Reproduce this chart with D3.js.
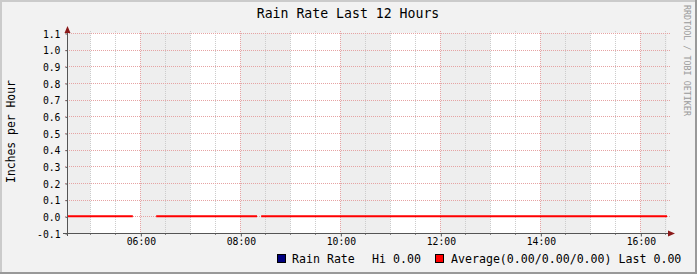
<html>
<head>
<meta charset="utf-8">
<script src="https://cdnjs.cloudflare.com/ajax/libs/d3/7.8.5/d3.min.js"></script>
<style>
body { margin: 0; background: #f2f2f2; }
svg text { font-family: "DejaVu Sans Mono", monospace; }
</style>
</head>
<body>
<svg id="canvas" width="697" height="274"></svg>
<script>

// samples (null = no data)
var times = ['04:32', '05:51', '05:52', '06:19', '08:20', '08:21', '08:25', '16:32'];
var rainRate = [0, 0, null, 0, 0, null, 0, 0];
var yTicks = [-0.1, 0, 0.1, 0.2, 0.3, 0.4, 0.5, 0.6, 0.7, 0.8, 0.9, 1.0, 1.1];
var majorHours = ['06:00', '08:00', '10:00', '12:00', '14:00', '16:00'];
var legendNames = ['Rain Rate', 'Average'];
var legendColors = ['#000080', '#ff0000'];

var parse = d3.timeParse('%H:%M');
var svg = d3.select('#canvas');
var W = 697, H = 274;

var x = d3.scaleTime().domain([parse('04:32'), parse('16:32')]).range([67, 667]);
var y = d3.scaleLinear().domain([-0.1, 1.1]).range([233, 33]);

// background + 3d frame
svg.append('rect').attr('width', W).attr('height', H).attr('fill', '#f2f2f2');
svg.append('rect').attr('x', 0).attr('y', 0).attr('width', W).attr('height', 2).attr('fill', '#cbcbcb');
svg.append('rect').attr('x', 0).attr('y', 0).attr('width', 2).attr('height', H).attr('fill', '#cbcbcb');
svg.append('rect').attr('x', 0).attr('y', H - 2).attr('width', W).attr('height', 2).attr('fill', '#999');
svg.append('rect').attr('x', W - 2).attr('y', 0).attr('width', 2).attr('height', H).attr('fill', '#999');

// canvas
svg.append('rect').attr('x', 67).attr('y', 33).attr('width', 600).attr('height', 200).attr('fill', '#fff');

// hour bands, even hours shaded
var hours = d3.timeHour.range(parse('04:00'), parse('17:00'));
svg.selectAll('.band')
  .data(hours.filter(function(h) { return h.getHours() % 2 === 0; }))
  .enter().append('rect')
  .attr('class', 'band')
  .attr('x', function(h) { return Math.max(67, x(h)); })
  .attr('y', 33)
  .attr('width', function(h) { return Math.min(667, x(d3.timeHour.offset(h, 1))) - Math.max(67, x(h)); })
  .attr('height', 200)
  .attr('fill', '#eeeeee');

// minor vertical grid (30 min)
var majors = majorHours.map(parse);
var minors = d3.timeMinute.every(30).range(parse('05:00'), parse('16:32'))
  .filter(function(t) { return !majors.some(function(m) { return +m === +t; }); });

svg.selectAll('.vminor')
  .data(minors).enter().append('line')
  .attr('x1', function(d) { return Math.round(x(d)) + 0.5; })
  .attr('x2', function(d) { return Math.round(x(d)) + 0.5; })
  .attr('y1', 31).attr('y2', 233)
  .attr('stroke', '#cccccc').attr('stroke-dasharray', '1,1');

// horizontal grid
svg.selectAll('.hgrid')
  .data(yTicks.slice(1)).enter().append('line')
  .attr('x1', 65).attr('x2', 670)
  .attr('y1', function(d) { return Math.round(y(d)) + 0.5; })
  .attr('y2', function(d) { return Math.round(y(d)) + 0.5; })
  .attr('stroke', '#e6a3a3').attr('stroke-dasharray', '1,1');

// major vertical grid
svg.selectAll('.vmajor')
  .data(majors).enter().append('line')
  .attr('x1', function(d) { return Math.round(x(d)) + 0.5; })
  .attr('x2', function(d) { return Math.round(x(d)) + 0.5; })
  .attr('y1', 31).attr('y2', 233)
  .attr('stroke', '#e6a3a3').attr('stroke-dasharray', '1,1');

// data line
var data = times.map(function(t, i) { return {t: parse(t), v: rainRate[i]}; });
var line = d3.line()
  .defined(function(d) { return d.v !== null; })
  .x(function(d) { return x(d.t); })
  .y(function(d) { return y(d.v); });
svg.append('path').datum(data)
  .attr('d', line)
  .attr('fill', 'none')
  .attr('stroke', '#ff0000')
  .attr('stroke-width', 2);

// axes
var yFmt = function(d) { return d3.format('.1f')(d).replace('\u2212', '-'); };
var yAxis = d3.axisLeft(y).tickValues(yTicks).tickSize(2).tickPadding(5).tickFormat(yFmt);
var gy = svg.append('g').attr('transform', 'translate(67.5,0.5)').call(yAxis);
gy.select('.domain').remove();
gy.selectAll('line').attr('stroke', '#555');
gy.selectAll('text').attr('font-size', '9.75px').attr('fill', '#000').attr('dy', '0.36em');

var xAxis = d3.axisBottom(x).tickValues(majors).tickSize(3).tickPadding(2).tickFormat(d3.timeFormat('%H:%M'));
var gx = svg.append('g').attr('transform', 'translate(0.5,233.5)').call(xAxis);
gx.select('.domain').remove();
gx.selectAll('line').attr('stroke', '#555');
gx.selectAll('text').attr('font-size', '9.75px').attr('fill', '#000');

svg.selectAll('.mtick')
  .data(minors).enter().append('line')
  .attr('x1', function(d) { return Math.round(x(d)) + 0.5; })
  .attr('x2', function(d) { return Math.round(x(d)) + 0.5; })
  .attr('y1', 233).attr('y2', 235)
  .attr('stroke', '#888');

svg.append('line').attr('x1', 67.5).attr('x2', 67.5).attr('y1', 29).attr('y2', 236).attr('stroke', '#555');
svg.append('line').attr('x1', 63).attr('x2', 670).attr('y1', 233.5).attr('y2', 233.5).attr('stroke', '#555');
svg.append('path').attr('d', 'M64.5,33 L70.5,33 L67.5,26 Z').attr('fill', '#8b1a1a');
svg.append('path').attr('d', 'M668,230.5 L668,236.5 L675,233.5 Z').attr('fill', '#8b1a1a');

// titles
svg.append('text').attr('x', 348).attr('y', 18).attr('text-anchor', 'middle')
  .attr('font-size', '13.2px').attr('fill', '#000').text('Rain Rate Last 12 Hours');

svg.append('text').attr('transform', 'translate(15,131.5) rotate(-90)').attr('text-anchor', 'middle')
  .attr('font-size', '11.4px').attr('fill', '#000').text('Inches per Hour');

svg.append('text').attr('transform', 'translate(684,5) rotate(90)')
  .attr('font-size', '8.4px').attr('fill', '#9a9a9a').text('RRDTOOL / TOBI OETIKER');

// legend
var hi = d3.max(rainRate), avg = d3.mean(rainRate), lo = d3.min(rainRate);
var last = rainRate[rainRate.length - 1];
var f = d3.format('.2f');

svg.append('rect').attr('x', 277.5).attr('y', 254.5).attr('width', 8).attr('height', 8)
  .attr('fill', legendColors[0]).attr('stroke', '#000');
svg.append('text').attr('x', 292).attr('y', 263).attr('font-size', '11.6px').text(legendNames[0]);
svg.append('text').attr('x', 372).attr('y', 263).attr('font-size', '11.6px').text('Hi ' + f(hi));
svg.append('rect').attr('x', 435.5).attr('y', 254.5).attr('width', 8).attr('height', 8)
  .attr('fill', legendColors[1]).attr('stroke', '#000');
svg.append('text').attr('x', 451).attr('y', 263).attr('font-size', '11.6px')
  .text(legendNames[1] + '(' + f(lo) + '/' + f(avg) + '/' + f(hi) + ') Last ' + f(last));

</script>
</body>
</html>
